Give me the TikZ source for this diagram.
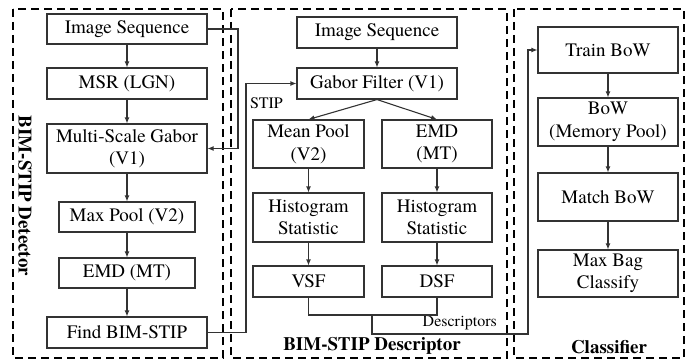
\documentclass[tikz,border=0pt]{standalone}
\usepackage{fontspec}
\setmainfont{texgyretermes}[Extension=.otf, UprightFont=*-regular, BoldFont=*-bold]
\usetikzlibrary{arrows.meta,calc}
\begin{document}
\begin{tikzpicture}[x=1pt,y=-1pt,
  box/.style={draw=black!80, line width=1.1pt, inner sep=0pt, align=center,
    font=\fontsize{19}{22.5}\selectfont},
  panel/.style={draw=black, line width=2.4pt, dash pattern=on 8pt off 5pt},
  arr/.style={draw=black!80, line width=1.1pt, -{Latex[length=6pt,width=5pt]}},
  ln/.style={draw=black!80, line width=1.1pt},
  lbl/.style={inner sep=0pt, font=\fontsize{16}{18}\selectfont},
  ttl/.style={inner sep=0pt, font=\fontsize{19}{22}\selectfont\bfseries}]
\useasboundingbox (0,0) rectangle (691,361);
% panels
\draw[panel] (13,9) rectangle (223,358);
\draw[panel] (231,9) rectangle (507,358);
\draw[panel] (514,9) rectangle (684,358);
% left column
\node[box, minimum width=160pt, minimum height=30pt] (ls1) at (127,29) {Image Sequence};
\node[box, minimum width=160pt, minimum height=31pt] (ls2) at (127,83.5) {MSR (LGN)};
\node[box, minimum width=160pt, minimum height=49pt] (ls3) at (127,148.5) {Multi-Scale Gabor\\(V1)};
\node[box, minimum width=136pt, minimum height=30pt] (ls4) at (127,217) {Max Pool (V2)};
\node[box, minimum width=136pt, minimum height=30pt] (ls5) at (127,273) {EMD (MT)};
\node[box, minimum width=160pt, minimum height=31pt] (ls6) at (127,332.5) {Find BIM-STIP};
% middle column
\node[box, minimum width=160pt, minimum height=31pt] (m1) at (377,32.5) {Image Sequence};
\node[box, minimum width=160pt, minimum height=31pt] (m2) at (377,83.5) {Gabor Filter (V1)};
\node[box, minimum width=111pt, minimum height=48pt] (m3) at (308.5,144) {Mean Pool\\(V2)};
\node[box, minimum width=110pt, minimum height=48pt] (m4) at (437,144) {EMD\\(MT)};
\node[box, minimum width=111pt, minimum height=49pt] (m5) at (308.5,217.5) {Histogram\\Statistic};
\node[box, minimum width=110pt, minimum height=49pt] (m6) at (437,217.5) {Histogram\\Statistic};
\node[box, minimum width=111pt, minimum height=31pt] (m7) at (308.5,281.5) {VSF};
\node[box, minimum width=110pt, minimum height=31pt] (m8) at (437,281.5) {DSF};
% right column
\node[box, minimum width=140pt, minimum height=46pt] (r1) at (608,50) {Train BoW};
\node[box, minimum width=140pt, minimum height=48pt] (r2) at (608,122) {BoW\\(Memory Pool)};
\node[box, minimum width=140pt, minimum height=48pt] (r3) at (608,197) {Match BoW};
\node[box, minimum width=140pt, minimum height=47pt] (r4) at (608,273.5) {Max Bag\\Classify};
% titles
\node[ttl, rotate=-90] (t1) at (25,196) {BIM-STIP Detector};
\node[ttl] (t2) at (372,346) {BIM-STIP Descriptor};
\node[ttl] (t3) at (609,347) {Classifier};
\node[lbl, anchor=west] (stip) at (250,103) {STIP};
\node[lbl, anchor=east] (desc) at (497,323) {Descriptors};
% coordinates
\coordinate (c1) at (238,0);
\coordinate (c2) at (246,0);
\coordinate (c3) at (528,0);
\coordinate (j1) at (308.5,315);
\coordinate (j2) at (437,315);
\coordinate (jm) at (372,315);
\coordinate (jb) at (372,334);
% left arrows
\draw[arr] (ls1) -- (ls2);
\draw[arr] (ls2) -- (ls3);
\draw[arr] (ls3) -- (ls4);
\draw[arr] (ls4) -- (ls5);
\draw[arr] (ls5) -- (ls6);
\draw[arr] (ls1.east) -- (ls1.east -| c1) |- (ls3.east);
\draw[arr] (ls6.east) -- (ls6.east -| c2) |- (m2.west);
% middle arrows
\draw[arr] (m1) -- (m2);
\draw[arr] (m2.south) -- (m3.north);
\draw[arr] (m2.south) -- (m4.north);
\draw[arr] (m3) -- (m5);
\draw[arr] (m4) -- (m6);
\draw[arr] (m5) -- (m7);
\draw[arr] (m6) -- (m8);
\draw[ln] (m7.south) -- (j1) -- (j2) -- (m8.south);
\draw[arr] (jm) -- (jb) -- (jb -| c3) |- (r1.west);
% right arrows
\draw[arr] (r1) -- (r2);
\draw[arr] (r2) -- (r3);
\draw[arr] (r3) -- (r4);
\end{tikzpicture}
\end{document}
